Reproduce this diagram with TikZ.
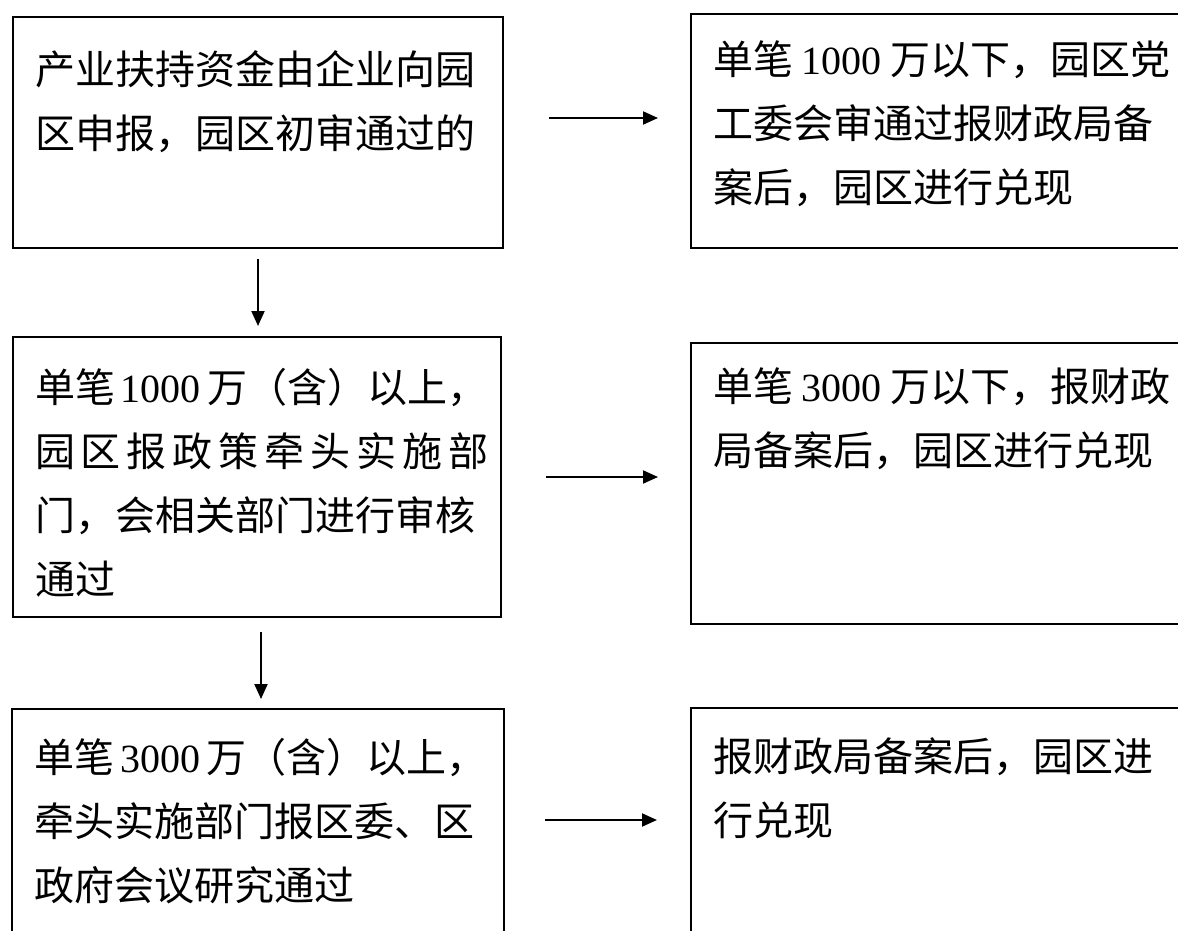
\documentclass[tikz,border=0pt]{standalone}
\usepackage{fontspec}
\setmainfont{Noto Sans CJK SC}
\newfontfamily\tnr{Liberation Serif}
\usetikzlibrary{arrows.meta,positioning}

\newcommand{\dig}[1]{{\tnr #1}}
\newcommand{\boxtext}[4]{\parbox[c][#1][t]{#2}{\vspace*{#3}#4}}
\tikzset{
	flowbox/.style={draw,line width=1pt,anchor=north west,inner xsep=11pt,inner ysep=0pt,font=\fontsize{20pt}{32pt}\selectfont},
	arr/.style={-{Triangle[length=7.5pt,width=6.5pt]},line width=1pt}
}

\begin{document}
\begin{tikzpicture}[x=1pt,y=1pt]
	\useasboundingbox (0,0) rectangle (589,-465.5);
	\clip (0,0) rectangle (589,-465.5);
	\node (L1) [flowbox] at (6,-8) {\boxtext{115.5pt}{223pt}{17pt}{产业扶持资金由企业向园\\区申报，园区初审通过的}};
	\node (R1) [flowbox] at (345,-6.5) {\boxtext{117pt}{280pt}{13.5pt}{单笔 \dig{1000} 万以下，园区党\\工委会审通过报财政局备\\案后，园区进行兑现}};
	\node (L2) [flowbox] at (6,-168) {\boxtext{140pt}{222pt}{15.5pt}{\mbox{单笔\hspace{3pt}\dig{1000}\hspace{3pt}万（含）以上，}\\\makebox[\linewidth][s]{园 区 报 政 策 牵 头 实 施 部}\\门，会相关部门进行审核\\通过}};
	\node (R2) [flowbox] at (345,-171) {\boxtext{140.5pt}{280pt}{12.5pt}{单笔 \dig{3000} 万以下，报财政\\局备案后，园区进行兑现}};
	\node (L3) [flowbox] at (5.5,-354) {\boxtext{150pt}{224pt}{14.5pt}{\mbox{单笔\hspace{3pt}\dig{3000}\hspace{3pt}万（含）以上，}\\牵头实施部门报区委、区\\政府会议研究通过}};
	\node (R3) [flowbox] at (345,-353.5) {\boxtext{150pt}{280pt}{15pt}{报财政局备案后，园区进\\行兑现}};
	% connectors
	\coordinate (h1) at (0,-59);
	\coordinate (h2) at (0,-238.5);
	\coordinate (h3) at (0,-410);
	\coordinate (v2) at (130.5,0);
	\draw[arr,shorten <=22.5pt,shorten >=16pt] (L1.east |- h1) -- (R1.west |- h1);
	\draw[arr,shorten <=22pt,shorten >=16pt] (L2.east |- h2) -- (R2.west |- h2);
	\draw[arr,shorten <=20pt,shorten >=16.5pt] (L3.east |- h3) -- (R3.west |- h3);
	\draw[arr,shorten <=5pt,shorten >=5pt] (L1.south) -- (L1.south |- L2.north);
	\draw[arr,shorten <=7pt,shorten >=4.5pt] (L2.south -| v2) -- (L3.north -| v2);
\end{tikzpicture}
\end{document}
